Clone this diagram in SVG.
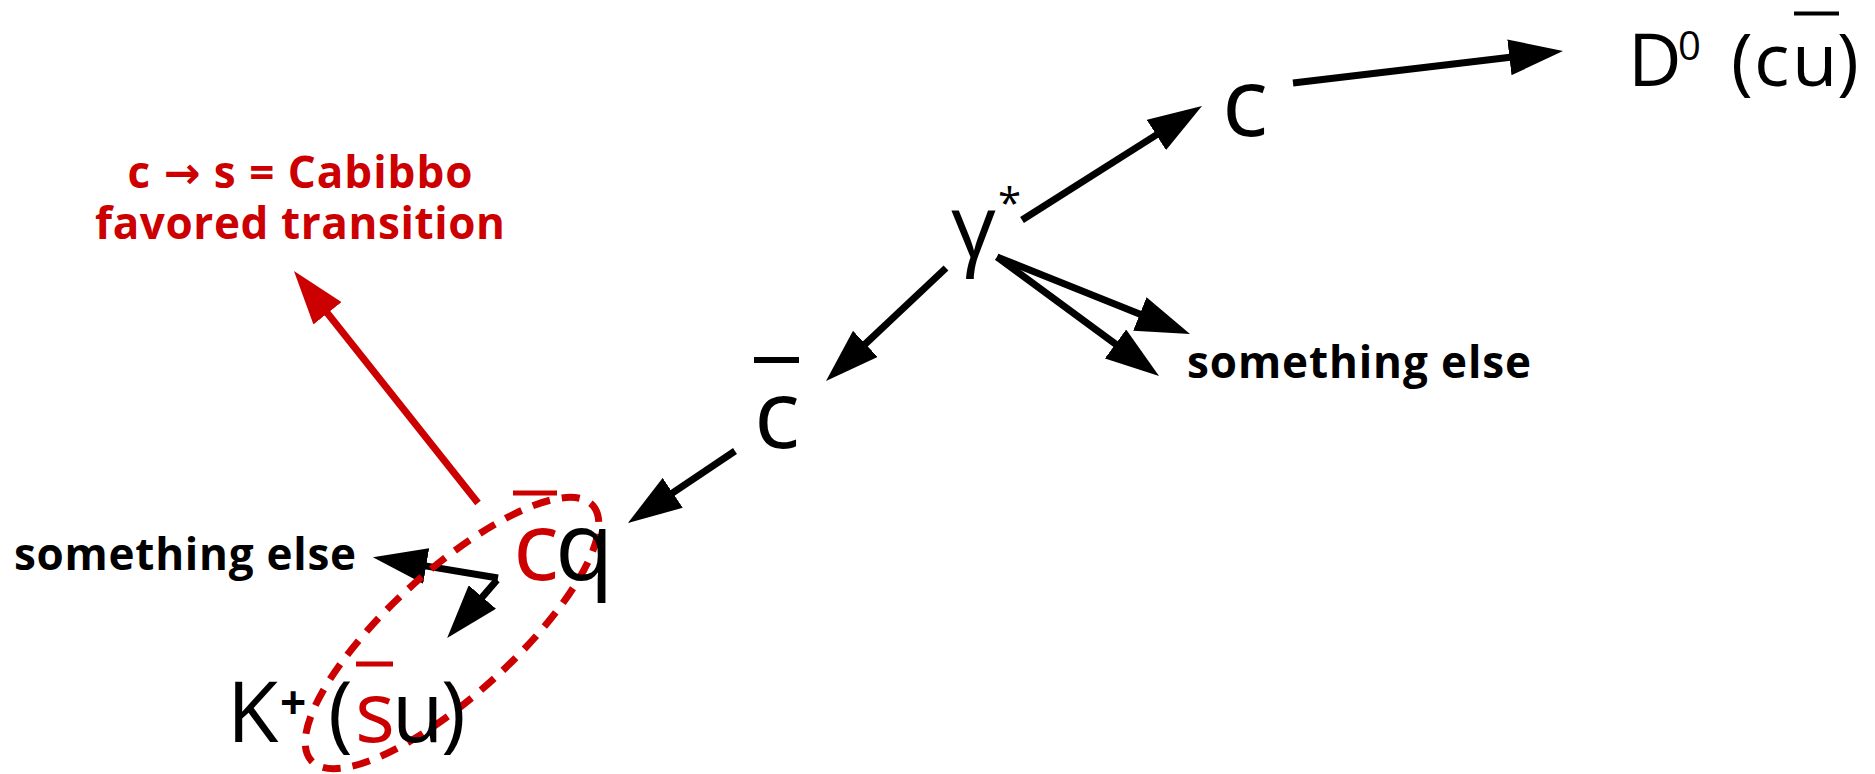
<svg xmlns="http://www.w3.org/2000/svg" width="1875" height="774" viewBox="0 0 1875 774">
  <style>
    text { font-family: "Open Sans", "Noto Sans", "DejaVu Sans", sans-serif; fill: #000; }
    .sym { font-weight: 500; }
    .lbl { font-weight: 700; font-size: 44px; }
    .red { fill: #cc0000; }
    .conn { stroke: #000; stroke-width: 7; fill: none; marker-end: url(#ah); }
    .conn-red { stroke: #cc0000; stroke-width: 7; fill: none; marker-end: url(#ah-red); }
  </style>
  <defs>
    <marker id="ah" markerUnits="userSpaceOnUse" viewBox="0 0 54 36" markerWidth="54" markerHeight="36" refX="1" refY="18" orient="auto">
      <path d="M0,0 L54,18 L0,36 z" fill="#000"/>
    </marker>
    <marker id="ah-red" markerUnits="userSpaceOnUse" viewBox="0 0 54 36" markerWidth="54" markerHeight="36" refX="1" refY="18" orient="auto">
      <path d="M0,0 L54,18 L0,36 z" fill="#cc0000"/>
    </marker>
  </defs>

  <!-- connectors: each line stops at the arrowhead base -->
  <g id="connectors">
    <line class="conn" x1="1293" y1="83" x2="1510.4" y2="57.2"/>
    <line class="conn" x1="1022" y1="220" x2="1157.2" y2="134.4"/>
    <line class="conn" x1="946" y1="268" x2="864.6" y2="344.6"/>
    <line class="conn" x1="735" y1="451" x2="671.9" y2="493.4"/>
    <line class="conn" x1="997" y1="257" x2="1140.8" y2="314.4"/>
    <line class="conn" x1="997" y1="257" x2="1116.3" y2="344.6"/>
    <line class="conn" x1="498" y1="578" x2="425.2" y2="565.9"/>
    <line class="conn" x1="497" y1="580" x2="481.7" y2="597.8"/>
    <line class="conn-red" x1="478" y1="503" x2="326.9" y2="312.5"/>
  </g>

  <!-- dashed grouping of the charm and strange quarks -->
  <g id="grouping">
    <ellipse cx="452" cy="633" rx="190" ry="62" transform="rotate(-42.2 452 633)" fill="none" stroke="#cc0000" stroke-width="7" stroke-dasharray="18 12"/>
  </g>

  <g id="node-d0">
    <text class="sym" y="86" font-size="74"><tspan x="1628">D</tspan><tspan x="1678" y="60" font-size="40">0</tspan><tspan x="1731" y="86">(</tspan><tspan x="1754">c</tspan><tspan x="1792">u</tspan><tspan x="1837">)</tspan></text>
    <line x1="1794" y1="13.5" x2="1839" y2="13.5" stroke="#000" stroke-width="4"/>
  </g>

  <g id="node-c">
    <text class="sym" x="1245" y="136" font-size="96" text-anchor="middle">c</text>
  </g>

  <g id="node-gamma">
    <text class="sym" x="951" y="258" font-size="88">γ<tspan x="998" y="218" font-size="42">*</tspan></text>
  </g>

  <g id="node-cbar">
    <text class="sym" x="777" y="448" font-size="96" text-anchor="middle">c</text>
    <line x1="754" y1="360" x2="799" y2="360" stroke="#000" stroke-width="6"/>
  </g>

  <g id="node-cbar-q">
    <text class="sym red" x="536" y="580" font-size="96" text-anchor="middle">c</text>
    <text class="sym" x="555" y="580" font-size="96">q</text>
    <line x1="513" y1="493" x2="557" y2="493" stroke="#cc0000" stroke-width="5"/>
  </g>

  <g id="node-kaon">
    <text class="sym" y="742" font-size="84"><tspan x="227">K</tspan><tspan x="280" y="719" font-size="46" font-weight="700">+</tspan><tspan x="328" y="742">(</tspan><tspan x="355" class="red">s</tspan><tspan x="392">u</tspan><tspan x="441">)</tspan></text>
    <line x1="356" y1="664" x2="393" y2="664" stroke="#cc0000" stroke-width="5"/>
  </g>

  <g id="node-else-right">
    <text class="lbl" x="1187" y="378" textLength="344">something else</text>
  </g>

  <g id="node-else-left">
    <text class="lbl" x="14" y="570" textLength="342">something else</text>
  </g>

  <g id="node-cabibbo">
    <text class="lbl red" text-anchor="middle"><tspan x="300" y="188" textLength="345">c → s = Cabibbo</tspan><tspan x="300" y="239" textLength="410">favored transition</tspan></text>
  </g>
</svg>
